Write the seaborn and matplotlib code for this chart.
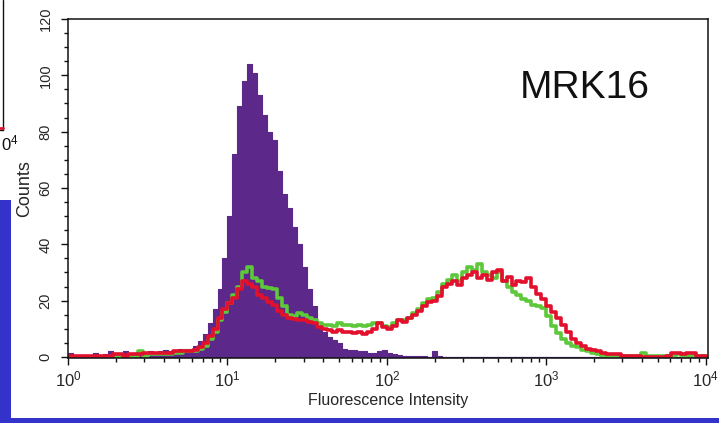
import numpy as np
import pandas as pd
import matplotlib
matplotlib.use('Agg')
from matplotlib import pyplot as plt
from matplotlib.patches import Rectangle
from matplotlib.lines import Line2D
from matplotlib.ticker import LogLocator, MultipleLocator
import seaborn as sns

# counts per channel, 32 channels per decade, 10^0 .. 10^4
control = [
    1.5, 0, 0, 0, 0, 1.5, 0.5, 1, 2, 1.5,
    1, 2, 1, 1.5, 1, 1.5, 2, 1.5, 2, 2.5,
    2, 2.5, 3, 3, 3, 4, 5.5, 8, 12, 17,
    24, 35, 50, 72, 89, 98, 104, 101, 93, 86,
    80, 77, 66, 58, 53, 46, 40, 32, 24, 18,
    11, 9, 7, 6, 5, 3, 2.5, 2.5, 2, 2,
    1.5, 1.5, 2, 2.5, 1.5, 1, 0.8, 0.5, 0.5, 0.3,
    0.3, 0.2, 0, 2, 0.3, 0, 0, 0, 0, 0,
    0, 0, 0, 0, 0, 0, 0, 0, 0, 0,
    0, 0, 0, 0, 0, 0, 0, 0, 0, 0,
    0, 0, 0, 0, 0, 0, 0, 0, 0, 0,
    0, 0, 0, 0, 0, 0, 0, 0, 0, 0,
    0, 0, 0, 0, 0, 0, 0, 0,
]
mrk16_a = [
    0, 0, 0, 0, 0, 0, 0, 0, 0, 0,
    0, 0, 0, 0, 2, 0.5, 1, 1, 1, 1,
    1, 1.5, 1.5, 2, 2, 2, 3, 4, 6.5, 9,
    13, 16, 19, 22, 25, 30, 32, 28, 27, 25,
    24.5, 24, 21, 18, 15, 14.5, 15.5, 15, 14, 13,
    12, 11.5, 11.5, 11, 12, 11.5, 11.5, 11, 11.5, 11,
    11.5, 12, 12, 11, 10.5, 12, 13, 13, 14, 15.5,
    17, 19, 20.5, 21, 23, 26, 27.5, 29, 27, 30,
    32, 31, 33, 30, 29, 28, 30, 27, 25, 23,
    22, 20.5, 20, 18.5, 18, 17.5, 14.5, 11, 8.5, 6.5,
    5, 4, 3.5, 2.5, 2, 1.5, 1, 0.5, 0.5, 0.5,
    0.5, 0.5, 0.5, 0.5, 0.5, 1.5, 0.5, 0.5, 0.5, 0.5,
    0.5, 0.5, 1, 0.5, 0.5, 0.5, 0.5, 0.5,
]
mrk16_b = [
    0.5, 0.5, 0.5, 0.5, 0.5, 0.5, 0.5, 0.5, 0.5, 1,
    1, 0.5, 1, 1, 1, 1.5, 1.5, 1.5, 1.5, 1.5,
    1.5, 2, 2, 2, 2, 2.5, 3.5, 5, 7.5, 10,
    14, 17, 19, 21, 24, 27, 26, 25, 22, 21,
    19.5, 18.5, 16.5, 15, 14, 13.5, 13, 13, 12.5, 12,
    10.5, 10, 9.5, 9, 9.5, 9, 9, 8.5, 9, 8,
    9, 10, 12, 10.5, 10, 11, 13, 12.5, 14, 15,
    16.5, 18, 19.5, 20, 21.5, 25, 26, 27, 25.5, 28,
    29, 30, 28, 29, 27.5, 30, 31, 27, 28.5, 25.5,
    27, 26.5, 28, 25, 22.5, 20.5, 18, 16, 14, 11.5,
    9, 6.5, 5, 4, 3, 2.5, 2, 1.5, 1, 1,
    1, 0.5, 0.5, 0.5, 0.5, 0, 0, 0, 0, 0,
    0.5, 1.5, 1.5, 1, 1.5, 1.5, 0.5, 0.3,
]

n_ch = len(control)
chan_width = 4 / n_ch
channels = 10 ** ((np.arange(n_ch) + 0.5) * chan_width)
df = pd.DataFrame({'channel': channels, 'control': control,
                   'mrk16_a': mrk16_a, 'mrk16_b': mrk16_b})

sns.set_style('ticks')
plt.rcParams['font.family'] = ['Liberation Sans', 'DejaVu Sans']
plt.rcParams['mathtext.fontset'] = 'custom'
plt.rcParams['mathtext.rm'] = 'Liberation Sans'
plt.rcParams['mathtext.it'] = 'Liberation Sans:italic'
plt.rcParams['mathtext.bf'] = 'Liberation Sans:bold'

fig = plt.figure(figsize=(7.19, 4.23), dpi=100)
fig.patch.set_facecolor('white')
ax = fig.add_axes([0.0946, 0.1534, 0.890, 0.8017])

hist_kw = dict(data=df, x='channel', binwidth=chan_width, binrange=(0, 4),
               log_scale=True, element='step', ax=ax)
sns.histplot(weights='control', fill=True, color='#5c2889', alpha=1,
             linewidth=0.8, **hist_kw)
sns.histplot(weights='mrk16_a', fill=False, color='#5cc83a', linewidth=2.6,
             **hist_kw)
sns.histplot(weights='mrk16_b', fill=False, color='#e2102c', linewidth=2.6,
             **hist_kw)

ax.set_xlim(1, 10 ** 4.013)
ax.set_ylim(-0.4, 120)
ax.xaxis.set_major_locator(LogLocator(base=10, numticks=10))
ax.xaxis.set_minor_locator(LogLocator(base=10, subs=np.arange(2, 10), numticks=50))
ax.yaxis.set_major_locator(MultipleLocator(20))
ax.yaxis.set_minor_locator(MultipleLocator(5))

for s in ax.spines.values():
    s.set_visible(True)
    s.set_color('#111111')
    s.set_linewidth(1.1)

ax.tick_params(axis='both', which='major', direction='out', length=5, width=1,
               color='#111111')
ax.tick_params(axis='both', which='minor', direction='out', length=3, width=1,
               color='#111111')
ax.tick_params(axis='x', which='major', labelsize=12, pad=3)
ax.tick_params(axis='y', which='major', labelsize=10.5, pad=6, labelrotation=90)
for lab in ax.get_yticklabels():
    lab.set_va('center')

ax.set_xlabel('Fluorescence Intensity', fontsize=11.5, labelpad=3)
ax.set_ylabel('Counts', fontsize=13, labelpad=4)

ax.text(0.808, 0.767, 'MRK16', transform=ax.transAxes, fontsize=28,
        ha='center', va='baseline', color='#111111')

# slide background and neighbouring panel edge
W, H = 719, 423
fig.add_artist(Rectangle((0, 0), 11 / W, 223 / H, transform=fig.transFigure,
                         facecolor='#3333cc', edgecolor='none'))
fig.add_artist(Rectangle((0, 0), 1, 5 / H, transform=fig.transFigure,
                         facecolor='#3333cc', edgecolor='none'))
fig.add_artist(Line2D([3 / W, 3 / W], [1, 1 - 130 / H], transform=fig.transFigure,
                      color='#111111', lw=1))
fig.add_artist(Line2D([0, 3 / W], [1 - 130 / H, 1 - 130 / H],
                      transform=fig.transFigure, color='#111111', lw=1))
fig.add_artist(Line2D([0, 3 / W], [1 - 128 / H, 1 - 128 / H],
                      transform=fig.transFigure, color='#e2102c', lw=2))
fig.text(1 / W, 1 - 150 / H, r'$0^4$', ha='left', va='baseline', fontsize=12,
         color='#111111')

fig.savefig('out.png', dpi=100)
